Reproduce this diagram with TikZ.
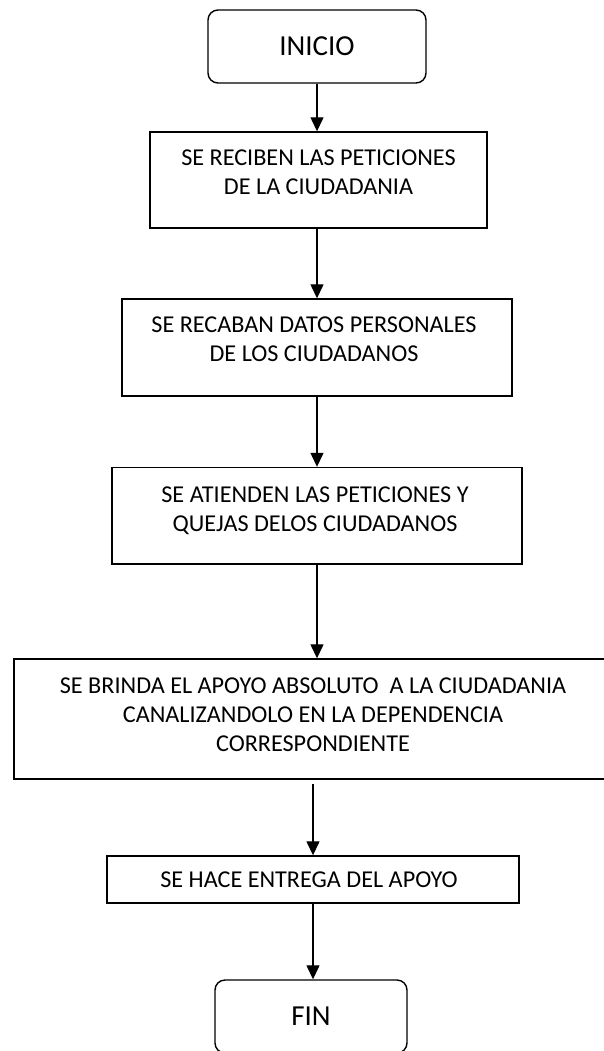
\documentclass[tikz,border=0pt]{standalone}
\usepackage{fontspec}
\setmainfont{Carlito}
\usetikzlibrary{arrows.meta}
\begin{document}
\begin{tikzpicture}[x=1pt,y=-1pt,
  box/.style={draw, line width=1.4pt, inner sep=0pt},
  rbox/.style={box, rounded corners=10pt, font=\fontsize{29}{34}\selectfont},
  txt/.style={font=\fontsize{24.2}{29}\selectfont, align=center, inner sep=0pt},
  lbl/.style={txt, anchor=north},
  arr/.style={-{Triangle[length=14pt,width=13pt]}, line width=1.3pt}]
\useasboundingbox (0,0) rectangle (603,1051);
\node[rbox, minimum width=218pt, minimum height=73pt] (inicio) at (317,46.5) {INICIO};
\node[box, minimum width=337pt, minimum height=96pt,
  label={[lbl, yshift=-18.3pt]north:SE RECIBEN LAS PETICIONES\\DE LA CIUDADANIA}] (b2) at (318.5,180) {};
\node[box, minimum width=390pt, minimum height=97pt,
  label={[lbl, yshift=-18.2pt, xshift=-3pt]north:SE RECABAN DATOS PERSONALES\\DE LOS CIUDADANOS}] (b3) at (317,347.5) {};
\node[box, minimum width=410pt, minimum height=96.5pt,
  label={[lbl, yshift=-19.5pt, xshift=-2pt]north:SE ATIENDEN LAS PETICIONES Y\\QUEJAS DELOS CIUDADANOS}] (b4) at (317,515.75) {};
\node[box, minimum width=606pt, minimum height=120pt,
  label={[lbl, yshift=-19.5pt, xshift=-4pt]north:SE BRINDA EL APOYO ABSOLUTO\ \ A LA CIUDADANIA\\CANALIZANDOLO EN LA DEPENDENCIA\\CORRESPONDIENTE}] (b5) at (317,719) {};
\node[box, minimum width=412pt, minimum height=47pt,
  label={[txt, xshift=-4pt]center:SE HACE ENTREGA DEL APOYO}] (b6) at (313,879.5) {};
\node[rbox, minimum width=192pt, minimum height=73pt] (fin) at (311,1016.5) {FIN};
\draw[arr] (inicio.south) -- (inicio.south |- b2.north);
\draw[arr] (b3.north |- b2.south) -- (b3.north);
\draw[arr] (b4.north |- b3.south) -- (b4.north);
\draw[arr] (b4.south) -- (b5.north);
\draw[arr, shorten <=4pt] (b6.north |- b5.south) -- (b6.north);
\draw[arr] (b6.south) -- (b6.south |- fin.north);
\end{tikzpicture}
\end{document}
